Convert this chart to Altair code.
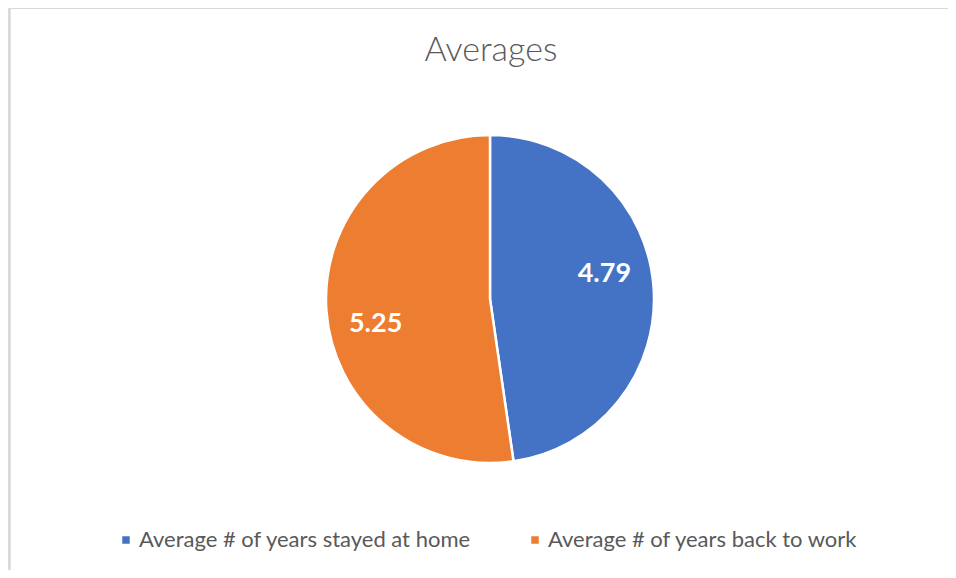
import altair as alt
import pandas as pd

categories = ["Average # of years stayed at home", "Average # of years back to work"]
values = [4.79, 5.25]
labels = ["4.79", "5.25"]
colors = ["#4472C4", "#ED7D31"]

df = pd.DataFrame({"cat": categories, "val": values, "lab": labels, "ord": [0, 1]})

FONT = "Lato"
CX, CY = 482, 291

base = alt.Chart(df).encode(
    theta=alt.Theta("val:Q", stack=True),
    order=alt.Order("ord:Q"),
)

pie = base.mark_arc(
    radius=164, stroke="white", strokeWidth=2.5, x=CX, y=CY
).encode(
    color=alt.Color(
        "cat:N",
        scale=alt.Scale(domain=categories, range=colors),
        sort=None,
        legend=alt.Legend(
            title=None,
            orient="none",
            legendX=107,
            legendY=521,
            direction="horizontal",
            symbolType="square",
            symbolSize=56,
            symbolStrokeWidth=0,
            labelFontSize=22,
            labelFont=FONT,
            labelColor="#595959",
            labelOffset=2,
            labelLimit=500,
            columnPadding=52,
        ),
    )
)

text = base.mark_text(
    radius=117, thetaOffset=-0.14, x=CX, y=CY,
    font=FONT, fontSize=27, fontWeight="bold", color="white",
).encode(text="lab:N")

frame_top = alt.Chart(df).mark_rule(color="#D9D9D9", strokeWidth=2).encode(
    x=alt.value(1.5), x2=alt.value(948), y=alt.value(0)
)
frame_left = alt.Chart(df).mark_rule(color="#D9D9D9", strokeWidth=2).encode(
    x=alt.value(1.5), y=alt.value(0), y2=alt.value(562)
)

chart = alt.layer(frame_top, frame_left, pie, text).properties(
    width=940,
    height=562,
    autosize=alt.AutoSizeParams(type="none"),
    padding=0,
    title=alt.TitleParams(
        "Averages", font=FONT, fontSize=34, fontWeight=300, color="#595959",
        anchor="middle", dx=13, offset=-88, frame="group", baseline="alphabetic",
    ),
).configure_view(stroke=None).configure(background="white")

chart.save("out.html", embed_options={"renderer": "svg", "actions": False})
